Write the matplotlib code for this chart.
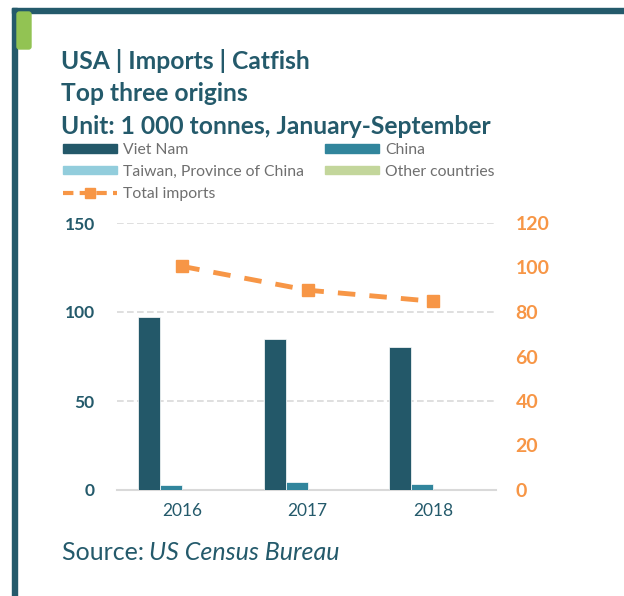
import matplotlib.pyplot as plt
from matplotlib.patches import Rectangle, FancyBboxPatch, Patch
from matplotlib.lines import Line2D
import numpy as np

years = ["2016", "2017", "2018"]
viet_nam = [97.2, 84.8, 80.5]
china = [2.6, 4.5, 3.5]
taiwan = [0.0, 0.0, 0.0]
other = [0.0, 0.0, 0.0]
total_imports = [100.5, 89.8, 84.8]

TEAL = "#245a6b"
ORANGE = "#f79646"
FONT = "Lato"

W, H = 624, 596
fig = plt.figure(figsize=(W / 100, H / 100), dpi=100)


def px(x, y, w, h):
    return [x / W, 1 - (y + h) / H, w / W, h / H]


# frame
fig.patches.append(Rectangle((12 / W, 0), 5 / W, 1 - 8 / H, transform=fig.transFigure,
                             color=TEAL, zorder=0))
fig.patches.append(Rectangle((12 / W, 1 - 13 / H), 1, 5 / H, transform=fig.transFigure,
                             color=TEAL, zorder=0))
fig.patches.append(FancyBboxPatch((17 / W, 1 - 49 / H), 14 / W, 37 / H,
                                  boxstyle="round,pad=0,rounding_size=0.004",
                                  transform=fig.transFigure, color="#92c353", zorder=1))

# titles
for i, t in enumerate(["USA | Imports | Catfish", "Top three origins",
                       "Unit: 1 000 tonnes, January-September"]):
    fig.text(61 / W, 1 - (61 + 33 * i) / H, t, fontsize=17.7, fontweight="bold",
             color=TEAL, family=FONT, va="center")

ax = fig.add_axes(px(117, 223, 379, 267))
x = np.arange(len(years))
bw = 0.176
colors = ["#235869", "#31859c", "#92cddc", "#c3d69b"]
names = ["Viet Nam", "China", "Taiwan, Province of China", "Other countries"]
for k, (vals, c) in enumerate(zip([viet_nam, china, taiwan, other], colors)):
    ax.bar(x + (k - 1.5) * bw, vals, bw, color=c, edgecolor="white", linewidth=0.5, zorder=3)

ax.set_xlim(-0.52, 2.5)
ax.set_ylim(0, 150)
ax.set_yticks([0, 50, 100, 150])
ax.set_xticks(x)
ax.set_xticklabels(years)
ax.grid(axis="y", color="#d9d9d9", linestyle=(0, (4, 2)), linewidth=1.2, zorder=0)
for s in ["top", "right", "left"]:
    ax.spines[s].set_visible(False)
ax.spines["bottom"].set_color("#d9d9d9")
ax.spines["bottom"].set_linewidth(1.5)
ax.tick_params(length=0)
ax.tick_params(axis="y", pad=16, labelsize=12.5, labelcolor=TEAL)
ax.tick_params(axis="x", pad=9, labelsize=12.5, labelcolor=TEAL)
for lbl in ax.get_yticklabels():
    lbl.set_fontweight("bold")
    lbl.set_family(FONT)
for lbl in ax.get_xticklabels():
    lbl.set_family(FONT)

ax2 = ax.twinx()
ax2.plot(x, total_imports, color=ORANGE, linestyle=(0, (3.6, 2.9)), linewidth=3.5,
         marker="s", markersize=8, zorder=4)
ax2.set_ylim(0, 120)
ax2.set_yticks([0, 20, 40, 60, 80, 100, 120])
for s in ["top", "right", "left", "bottom"]:
    ax2.spines[s].set_visible(False)
ax2.tick_params(length=0, pad=14, labelsize=14, labelcolor=ORANGE)
for lbl in ax2.get_yticklabels():
    lbl.set_fontweight("bold")
    lbl.set_family(FONT)

# legend, ordered so the two columns read row by row
patches = [Patch(color=c) for c in colors]
total_handle = Line2D([], [], color=ORANGE, linestyle=(0, (2.5, 1.5)), linewidth=3,
                      marker="s", markersize=7)
handles = [patches[0], patches[2], total_handle, patches[1], patches[3]]
labels = [names[0], names[2], "Total imports", names[1], names[3]]
leg = fig.legend(handles, labels, loc="upper left", bbox_to_anchor=(63 / W, 1 - 143 / H),
                 ncol=2, frameon=False, borderpad=0, borderaxespad=0,
                 handlelength=3.45, handleheight=0.45,
                 handletextpad=0.4, columnspacing=1.3, labelspacing=0.5,
                 prop={"family": FONT, "size": 11.3})
for t in leg.get_texts():
    t.set_color("#6f6f6f")

fig.text(62 / W, 1 - 553 / H, "Source: ", fontsize=18, color=TEAL, family=FONT, va="center")
fig.text(149 / W, 1 - 553 / H, "US Census Bureau", fontsize=18, color=TEAL, family=FONT,
         style="italic", va="center")

fig.savefig("out.png", dpi=100)
